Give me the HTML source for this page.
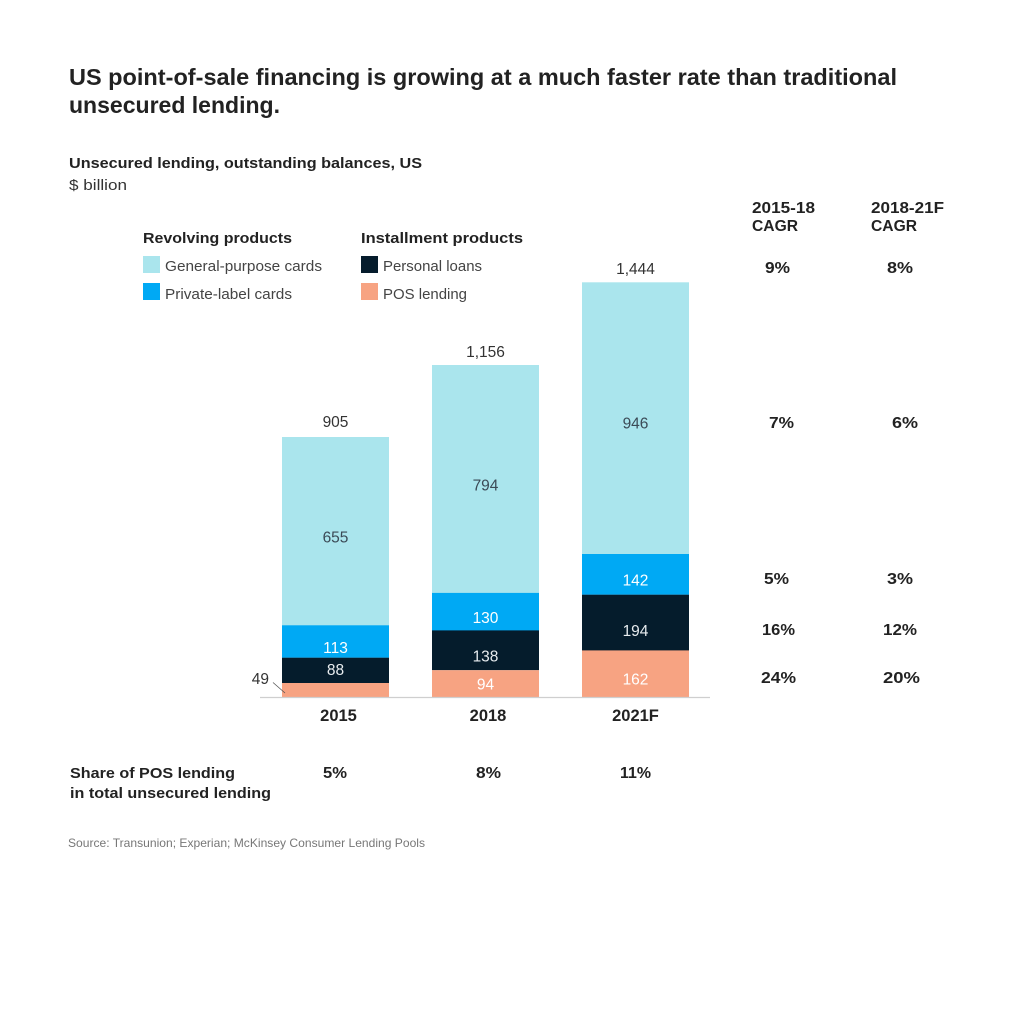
<!DOCTYPE html>
<html>
<head>
<meta charset="utf-8">
<style>
html,body{margin:0;padding:0;background:#fff;}
svg{display:block;}
text{font-family:"Liberation Sans",Arial,sans-serif;}
</style>
</head>
<body>
<svg width="1024" height="1011" viewBox="0 0 1024 1011" xmlns="http://www.w3.org/2000/svg">
<rect width="1024" height="1011" fill="#fff"/>
<!-- Title -->
<text x="69" y="85" font-size="23" font-weight="bold" fill="#222" textLength="828" lengthAdjust="spacingAndGlyphs">US point-of-sale financing is growing at a much faster rate than traditional</text>
<text x="69" y="113" font-size="23" font-weight="bold" fill="#222" textLength="211" lengthAdjust="spacingAndGlyphs">unsecured lending.</text>
<!-- Subtitle -->
<text x="69" y="168" font-size="15" font-weight="bold" fill="#222" textLength="353" lengthAdjust="spacingAndGlyphs">Unsecured lending, outstanding balances, US</text>
<text x="69" y="190" font-size="15" fill="#333" textLength="58" lengthAdjust="spacingAndGlyphs">$ billion</text>
<!-- Legend -->
<text x="143" y="243" font-size="15" font-weight="bold" fill="#222" textLength="149" lengthAdjust="spacingAndGlyphs">Revolving products</text>
<text x="361" y="243" font-size="15" font-weight="bold" fill="#222" textLength="162" lengthAdjust="spacingAndGlyphs">Installment products</text>
<rect x="143" y="256" width="17" height="17" fill="#aae5ed"/>
<text x="165" y="271" font-size="15" fill="#444" textLength="157" lengthAdjust="spacingAndGlyphs">General-purpose cards</text>
<rect x="143" y="283" width="17" height="17" fill="#00a9f4"/>
<text x="165" y="299" font-size="15" fill="#444" textLength="127" lengthAdjust="spacingAndGlyphs">Private-label cards</text>
<rect x="361" y="256" width="17" height="17" fill="#051c2c"/>
<text x="383" y="271" font-size="15" fill="#444" textLength="99" lengthAdjust="spacingAndGlyphs">Personal loans</text>
<rect x="361" y="283" width="17" height="17" fill="#f7a382"/>
<text x="383" y="299" font-size="15" fill="#444" textLength="84" lengthAdjust="spacingAndGlyphs">POS lending</text>

<!-- CAGR headers -->
<text x="752" y="213" font-size="15.5" font-weight="bold" fill="#222" textLength="63" lengthAdjust="spacingAndGlyphs">2015-18</text>
<text x="752" y="231" font-size="15.5" font-weight="bold" fill="#222" textLength="46" lengthAdjust="spacingAndGlyphs">CAGR</text>
<text x="871" y="213" font-size="15.5" font-weight="bold" fill="#222" textLength="73" lengthAdjust="spacingAndGlyphs">2018-21F</text>
<text x="871" y="231" font-size="15.5" font-weight="bold" fill="#222" textLength="46" lengthAdjust="spacingAndGlyphs">CAGR</text>

<g font-size="16" font-weight="bold" fill="#222">
<text x="765" y="273" textLength="25" lengthAdjust="spacingAndGlyphs">9%</text>
<text x="887" y="273" textLength="26" lengthAdjust="spacingAndGlyphs">8%</text>
<text x="769" y="428" textLength="25" lengthAdjust="spacingAndGlyphs">7%</text>
<text x="892" y="428" textLength="26" lengthAdjust="spacingAndGlyphs">6%</text>
<text x="764" y="584" textLength="25" lengthAdjust="spacingAndGlyphs">5%</text>
<text x="887" y="584" textLength="26" lengthAdjust="spacingAndGlyphs">3%</text>
<text x="762" y="635" textLength="33" lengthAdjust="spacingAndGlyphs">16%</text>
<text x="883" y="635" textLength="34" lengthAdjust="spacingAndGlyphs">12%</text>
<text x="761" y="683" textLength="35" lengthAdjust="spacingAndGlyphs">24%</text>
<text x="883" y="683" textLength="37" lengthAdjust="spacingAndGlyphs">20%</text>
</g>

<!-- Bars 2015 -->
<rect x="282" y="437" width="107" height="188.5" fill="#aae5ed"/>
<rect x="282" y="625.3" width="107" height="32.5" fill="#00a9f4"/>
<rect x="282" y="657.7" width="107" height="25.5" fill="#051c2c"/>
<rect x="282" y="683" width="107" height="14" fill="#f7a382"/>
<!-- Bars 2018 -->
<rect x="432" y="365" width="107" height="228" fill="#aae5ed"/>
<rect x="432" y="592.9" width="107" height="37.6" fill="#00a9f4"/>
<rect x="432" y="630.4" width="107" height="39.8" fill="#051c2c"/>
<rect x="432" y="670.2" width="107" height="26.8" fill="#f7a382"/>
<!-- Bars 2021F -->
<rect x="582" y="282.3" width="107" height="271.9" fill="#aae5ed"/>
<rect x="582" y="554" width="107" height="40.8" fill="#00a9f4"/>
<rect x="582" y="594.7" width="107" height="55.8" fill="#051c2c"/>
<rect x="582" y="650.4" width="107" height="46.6" fill="#f7a382"/>

<!-- Axis -->
<line x1="260" y1="697.5" x2="710" y2="697.5" stroke="#cfcfcf" stroke-width="1.2"/>

<!-- Totals -->
<g font-size="15.5" fill="#333" text-anchor="middle">
<text x="335.5" y="427">905</text>
<text x="485.5" y="357">1,156</text>
<text x="635.5" y="274">1,444</text>
</g>
<!-- Inner labels -->
<g font-size="15.5" text-anchor="middle">
<text x="335.5" y="542.5" fill="#3b4a56">655</text>
<text x="485.5" y="490.5" fill="#3b4a56">794</text>
<text x="635.5" y="428.5" fill="#3b4a56">946</text>
<text x="335.5" y="653" fill="#fff">113</text>
<text x="335.5" y="675" fill="#e8ecef">88</text>
<text x="485.5" y="623" fill="#fff">130</text>
<text x="485.5" y="661.5" fill="#e8ecef">138</text>
<text x="485.5" y="689.5" fill="#fff">94</text>
<text x="635.5" y="585.5" fill="#fff">142</text>
<text x="635.5" y="636" fill="#e8ecef">194</text>
<text x="635.5" y="684.5" fill="#fff">162</text>
</g>
<!-- 49 label with leader -->
<text x="269" y="684" font-size="15.5" fill="#333" text-anchor="end">49</text>
<line x1="273" y1="682.5" x2="285" y2="693" stroke="#555" stroke-width="0.8"/>

<!-- Year labels -->
<g font-size="16.5" font-weight="bold" fill="#222" text-anchor="middle">
<text x="338.5" y="721">2015</text>
<text x="488" y="721">2018</text>
<text x="635.5" y="721">2021F</text>
</g>

<!-- Share -->
<text x="70" y="778" font-size="15" font-weight="bold" fill="#222" textLength="165" lengthAdjust="spacingAndGlyphs">Share of POS lending</text>
<text x="70" y="798" font-size="15" font-weight="bold" fill="#222" textLength="201" lengthAdjust="spacingAndGlyphs">in total unsecured lending</text>
<g font-size="16" font-weight="bold" fill="#222">
<text x="323" y="778" textLength="24" lengthAdjust="spacingAndGlyphs">5%</text>
<text x="476" y="778" textLength="25" lengthAdjust="spacingAndGlyphs">8%</text>
<text x="620" y="778" textLength="31" lengthAdjust="spacingAndGlyphs">11%</text>
</g>

<!-- Source -->
<text x="68" y="847" font-size="12" fill="#777" textLength="357" lengthAdjust="spacingAndGlyphs">Source: Transunion; Experian; McKinsey Consumer Lending Pools</text>
</svg>
</body>
</html>
